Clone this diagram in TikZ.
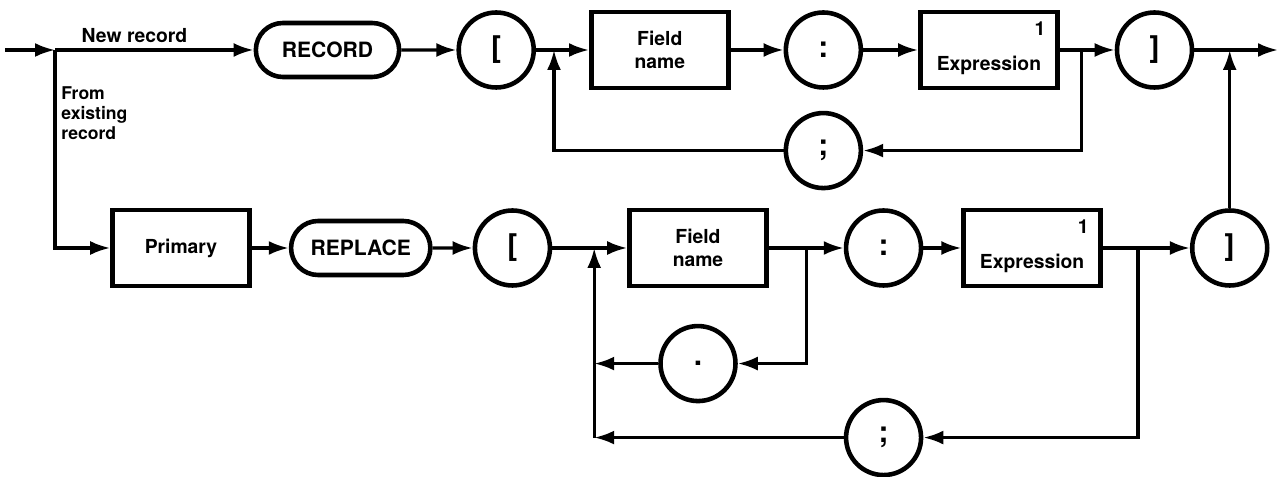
\documentclass[tikz,border=0pt]{standalone}
\usepackage{fontspec}
\setmainfont{TeX Gyre Heros}
\usetikzlibrary{shapes,arrows.meta,positioning,calc}

\begin{document}
\begin{tikzpicture}[
    font=\bfseries\fontsize{11}{13}\selectfont,
    kw/.style={rounded rectangle, draw=black, line width=2.6pt, minimum height=1.08cm, minimum width=3.1cm, font=\bfseries\fontsize{12}{14}\selectfont},
    bx/.style={rectangle, draw=black, line width=2.6pt, align=center, minimum height=1.52cm, minimum width=2.74cm},
    ex/.style={bx, text height=0.84cm, text depth=0pt, label={[anchor=north east, inner sep=0pt, text height=, text depth=, xshift=-0.28cm, yshift=-0.24cm]north east:1}},
    sym/.style={circle, draw=black, line width=2.6pt, minimum size=1.5cm, inner sep=0pt, font=\bfseries\fontsize{17}{17}\selectfont},
    arr/.style={-{Latex[length=0.4cm, width=0.28cm]}, line width=1.8pt}
]
    \useasboundingbox (0,0) rectangle (25.6,-9.54);

    % new record
    \node [kw] (n1) at (6.55,-1.0) {RECORD};
    \node [sym, right=1.1cm of n1] (n2) {[};
    \node [bx, right=1.06cm of n2] (n3) {Field\\name};
    \node [sym, right=1.06cm of n3] (n4) {:};
    \node [ex, right=1.1cm of n4] (n5) {Expression};
    \node [sym, right=1.1cm of n5] (n6) {]};
    \node [sym, below=0.42cm of n4] (s1) {;};

    % from existing record
    \node [bx] (m1) at (3.62,-4.96) {Primary};
    \node [kw, minimum width=3.02cm, right=0.74cm of m1] (m2) {REPLACE};
    \node [sym, right=0.8cm of m2] (m3) {[};
    \node [bx, right=1.5cm of m3] (m4) {Field\\name};
    \node [sym, right=1.5cm of m4] (m5) {:};
    \node [ex, right=0.76cm of m5] (m6) {Expression};
    \node [sym, right=1.74cm of m6] (m7) {]};
    \node [sym, below=0.71cm of m4] (s2) {.};
    \node [sym, below=2.2cm of m5] (s3) {;};

    \coordinate (in) at (0.1,-1.0);
    \coordinate (j0) at (1.1,-1.0);
    \coordinate (out) at (25.56,-1.0);
    \coordinate (j1) at ($(n2.east)+(0.36,0)$);
    \coordinate (j2) at ($(n5.east)+(0.44,0)$);
    \coordinate (k1) at ($(m3.east)+(0.84,0)$);
    \coordinate (k2) at ($(m4.east)+(0.76,0)$);
    \coordinate (k3) at ($(m6.east)+(0.7,0)$);

    \draw [arr] (in) -- (j0);
    \draw [arr] (j0) -- node [above, pos=0.4] {New record} (n1);
    \draw [arr] (j0) |- (m1);
    \node [anchor=north west, align=left, inner sep=0pt, font=\bfseries\fontsize{10}{11.5}\selectfont] (lbl) at (1.22,-1.72) {From\\existing\\record};

    \draw [arr] (n1) -- (n2);
    \draw [arr] (n2) -- (n3);
    \draw [arr] (n3) -- (n4);
    \draw [arr] (n4) -- (n5);
    \draw [arr] (n5) -- (n6);
    \draw [arr] (n6) -- (out);
    \draw [arr] (j2) |- (s1);
    \draw [arr] (s1) -| (j1);

    \draw [arr] (m1) -- (m2);
    \draw [arr] (m2) -- (m3);
    \draw [arr] (m3) -- (m4);
    \draw [arr] (m4) -- (m5);
    \draw [arr] (m5) -- (m6);
    \draw [arr] (m6) -- (m7);
    \draw [arr] (m7) -- (m7 |- out);
    \draw [arr] (k2) |- (s2);
    \draw [arr] (s2) -- (s2 -| k1);
    \draw [arr] (k3) |- (s3);
    \draw [arr] (s3) -- (s3 -| k1);
    \draw [arr] (s3 -| k1) -- (k1);
\end{tikzpicture}
\end{document}
